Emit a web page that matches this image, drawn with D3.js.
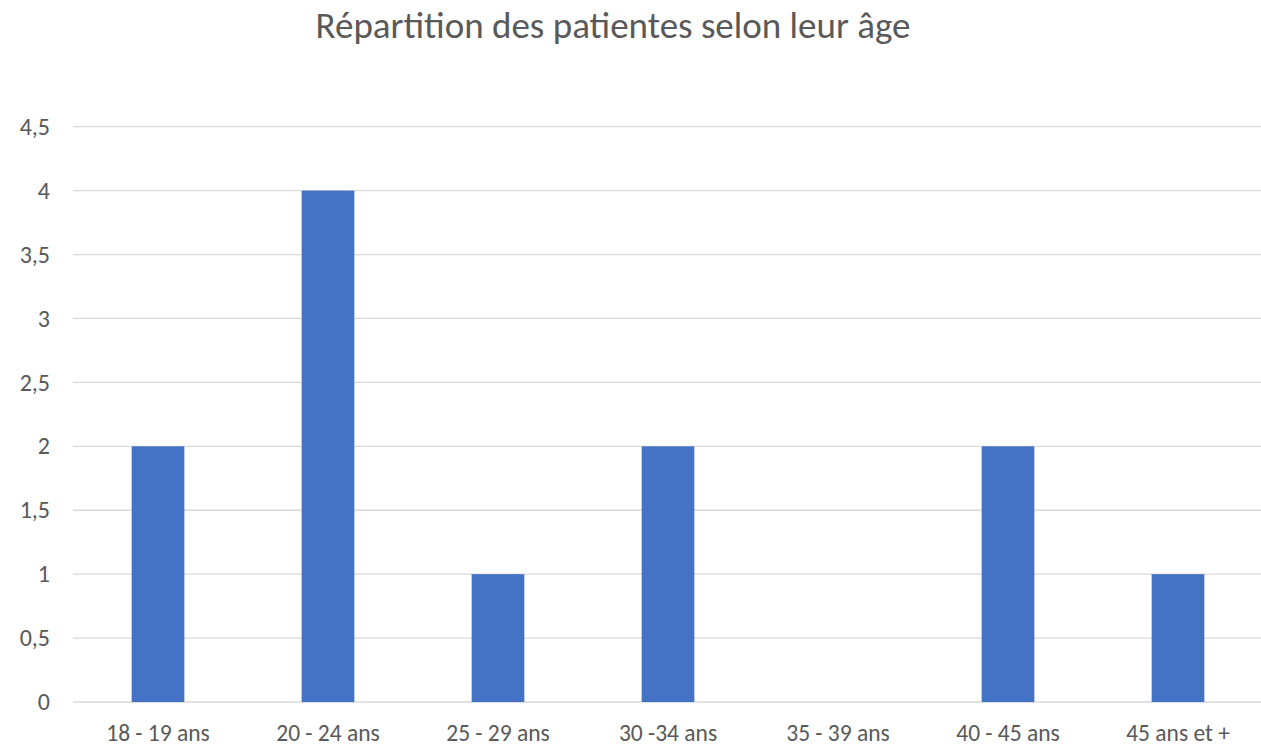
<!DOCTYPE html>
<html>
<head>
<meta charset="utf-8">
<script src="https://cdn.jsdelivr.net/npm/d3@7"></script>
<style>
  body { margin: 0; background: #fff; }
  #chart text { font-family: Carlito, Calibri, Lato, sans-serif; }
</style>
</head>
<body>
<div id="chart"></div>
<script>
const kWidth = 1261;
const kHeight = 746;

const categories = ["18 - 19 ans", "20 - 24 ans", "25 - 29 ans", "30 -34 ans", "35 - 39 ans", "40 - 45 ans", "45 ans et +"];
const counts = [2, 4, 1, 2, 0, 2, 1];
const yTicks = [0, 0.5, 1, 1.5, 2, 2.5, 3, 3.5, 4, 4.5];
const title = "Répartition des patientes selon leur âge";

// plot area runs past the right edge, like the source image
const plot = { left: 73, right: 1263, top: 126.7, bottom: 702 };

const svg = d3.select("#chart")
  .append("svg")
  .attr("width", kWidth)
  .attr("height", kHeight);

const xScale = d3.scaleBand()
  .domain(categories)
  .range([plot.left, plot.right])
  .paddingInner(0.69)
  .paddingOuter(0.345);

const yScale = d3.scaleLinear()
  .domain([0, 4.5])
  .range([plot.bottom, plot.top]);

// gridlines
svg.append("g")
  .selectAll("line")
  .data(yTicks)
  .enter()
  .append("line")
  .attr("x1", plot.left)
  .attr("x2", kWidth)
  .attr("y1", d => yScale(d))
  .attr("y2", d => yScale(d))
  .attr("stroke", "#d9d9d9")
  .attr("stroke-width", 1.3);

// bars
svg.append("g")
  .selectAll("rect")
  .data(counts)
  .enter()
  .append("rect")
  .attr("x", (d, i) => xScale(categories[i]))
  .attr("y", d => yScale(d))
  .attr("width", xScale.bandwidth())
  .attr("height", d => plot.bottom - yScale(d))
  .attr("fill", "#4472c4");

// y axis labels
const yAxis = d3.axisLeft(yScale)
  .tickValues(yTicks)
  .tickSize(0)
  .tickPadding(23)
  .tickFormat(d => String(d).replace(".", ","));

svg.append("g")
  .attr("transform", `translate(${plot.left}, 0)`)
  .call(yAxis)
  .call(g => g.select(".domain").remove())
  .selectAll("text")
  .attr("fill", "#595959")
  .style("font-size", "24px");

// x axis labels
const xAxis = d3.axisBottom(xScale).tickSize(0).tickPadding(22);

svg.append("g")
  .attr("transform", `translate(0, ${plot.bottom})`)
  .call(xAxis)
  .call(g => g.select(".domain").remove())
  .selectAll("text")
  .attr("fill", "#595959")
  .style("font-size", "23.5px");

svg.append("text")
  .attr("x", 613)
  .attr("y", 38)
  .attr("text-anchor", "middle")
  .attr("fill", "#595959")
  .style("font-size", "37px")
  .text(title);
</script>
</body>
</html>
